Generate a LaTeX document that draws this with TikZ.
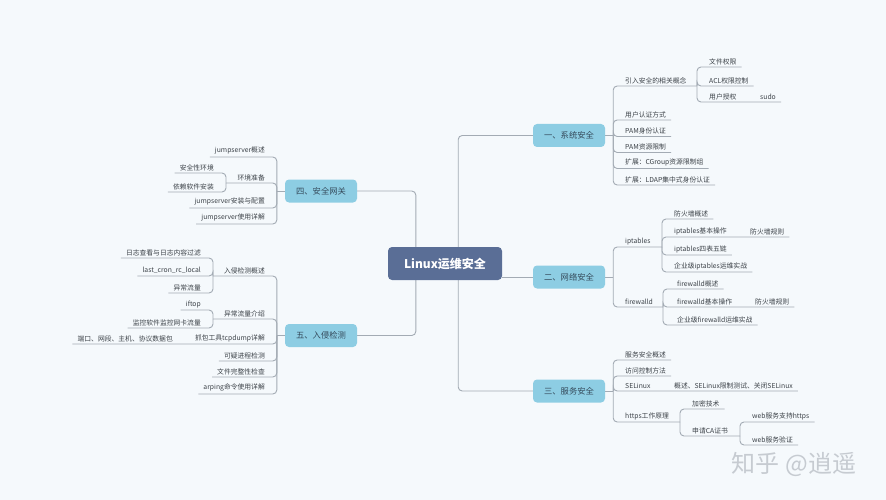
\documentclass[tikz,border=0pt]{standalone}
\usepackage{fontspec}
\setmainfont{Noto Sans CJK SC}
\usetikzlibrary{backgrounds,calc}
\definecolor{bgc}{HTML}{F5F9FC}
\definecolor{linec}{HTML}{A3ABB4}
\definecolor{txtc}{HTML}{3C4248}
\definecolor{brc}{HTML}{8DCDE3}
\definecolor{brtxt}{HTML}{34495A}
\definecolor{rootc}{HTML}{5A6E96}
\definecolor{wmc}{HTML}{C6CBD1}
\begin{document}
\begin{tikzpicture}[x=1pt,y=-1pt,
 ln/.style={draw=linec,line width=0.9pt,rounded corners=4pt},
 rt/.style={anchor=south west,inner xsep=0pt,inner ysep=2.2pt,text=txtc,font=\fontsize{6.8}{8}\selectfont},
 lt/.style={rt,anchor=south east},
 brn/.style={fill=brc,rounded corners=4pt,minimum width=72pt,minimum height=23pt,inner sep=0pt,text=brtxt,font=\fontsize{8.3}{10}\selectfont},
 rootn/.style={fill=rootc,rounded corners=4pt,minimum width=114pt,minimum height=33pt,inner sep=0pt,text=white,font=\fontsize{12}{14}\selectfont\bfseries}]
\useasboundingbox (0,0) rectangle (886,500);

\node[rootn] (root) at (445,263.5) {Linux运维安全};
\node[brn] (n1) at (569,135.5) {一、系统安全};
\node[brn] (n2) at (569,277) {二、网络安全};
\node[brn] (n3) at (569,391) {三、服务安全};
\node[brn] (n4) at (321,191) {四、安全网关};
\node[brn] (n5) at (321,335.5) {五、入侵检测};

% branch 1
\node[rt] (a1) at (625,86) {引入安全的相关概念};
\node[rt] (a11) at (709,67) {文件权限};
\node[rt] (a12) at (709,86) {ACL权限控制};
\node[rt] (a13) at (709,102) {用户授权};
\node[rt] (a131) at (760,102) {sudo};
\node[rt] (a2) at (625,120) {用户认证方式};
\node[rt] (a3) at (625,136.5) {PAM身份认证};
\node[rt] (a4) at (625,152.5) {PAM资源限制};
\node[rt] (a5) at (625,168.5) {扩展：CGroup资源限制组};
\node[rt] (a6) at (625,185) {扩展：LDAP集中式身份认证};

% branch 2
\node[rt] (b1) at (625,247) {iptables};
\node[rt] (b11) at (674,219) {防火墙概述};
\node[rt] (b12) at (674,237) {iptables基本操作};
\node[rt] (b121) at (750,237) {防火墙规则};
\node[rt] (b13) at (674,255) {iptables四表五链};
\node[rt] (b14) at (674,272) {企业级iptables运维实战};
\node[rt] (b2) at (625,307) {firewalld};
\node[rt] (b21) at (677,289) {firewalld概述};
\node[rt] (b22) at (677,307) {firewalld基本操作};
\node[rt] (b221) at (755,307) {防火墙规则};
\node[rt] (b23) at (677,325) {企业级firewalld运维实战};

% branch 3
\node[rt] (c1) at (625,360) {服务安全概述};
\node[rt] (c2) at (625,376) {访问控制方法};
\node[rt] (c3) at (625,391) {SELinux};
\node[rt] (c31) at (674,391) {概述、SELinux限制测试、关闭SELinux};
\node[rt] (c4) at (625,422) {https工作原理};
\node[rt] (c41) at (692,409) {加密技术};
\node[rt] (c42) at (692,436) {申请CA证书};
\node[rt] (c421) at (752,422) {web服务支持https};
\node[rt] (c422) at (752,445) {web服务验证};

% branch 4
\node[lt] (d1) at (265,157) {jumpserver概述};
\node[lt] (d2) at (265,183) {环境准备};
\node[lt] (d21) at (214,173) {安全性环境};
\node[lt] (d22) at (214,192) {依赖软件安装};
\node[lt] (d3) at (265,208) {jumpserver安装与配置};
\node[lt] (d4) at (265,224) {jumpserver使用详解};

% branch 5
\node[lt] (e1) at (265,276) {入侵检测概述};
\node[lt] (e11) at (201,258) {日志查看与日志内容过滤};
\node[lt] (e12) at (201,276) {last\_cron\_rc\_local};
\node[lt] (e13) at (201,293) {异常流量};
\node[lt] (e2) at (265,319) {异常流量介绍};
\node[lt] (e21) at (201,310) {iftop};
\node[lt] (e22) at (201,328) {监控软件监控网卡流量};
\node[lt] (e3) at (265,344) {抓包工具tcpdump详解};
\node[lt] (e31) at (173,344) {端口、网段、主机、协议数据包};
\node[lt] (e4) at (265,361) {可疑进程检测};
\node[lt] (e5) at (265,377) {文件完整性检查};
\node[lt] (e6) at (265,394) {arping命令使用详解};

\node[text=wmc,font=\fontsize{24}{26}\selectfont] (wm) at (794,464) {知乎 @逍遥};

% junctions
\coordinate (k1) at ([xshift=8pt]n1.east);
\coordinate (k1a) at (697,86);
\coordinate (k2) at ([xshift=8pt]n2.east);
\coordinate (k2a) at (662,247);
\coordinate (k2b) at (663,307);
\coordinate (k3) at ([xshift=8pt]n3.east);
\coordinate (k3a) at (680,422);
\coordinate (k3b) at (740,436);
\coordinate (k4) at ([xshift=-8pt]n4.west);
\coordinate (k4a) at (226,183);
\coordinate (k5) at ([xshift=-8pt]n5.west);
\coordinate (k5a) at (213,276);
\coordinate (k5b) at (213,319);

\begin{scope}[on background layer]
\fill[bgc] (0,0) rectangle (886,500);
\draw[ln] (n1.west) -| ([xshift=-44pt]root.east) |- (n3.west);
\draw[ln] (root.east |- n2.west) -- (n2.west);
\draw[ln] (n4.east) -| ([xshift=28pt]root.west) |- (n5.east);
% 1
\draw[ln] (n1.east) -- (k1);
\draw[ln] (k1) |- (k1a);
\draw[ln] (k1a) |- ([xshift=5pt]a11.south east);
\draw[ln] (k1a) |- ([xshift=5pt]a12.south east);
\draw[ln] (k1a) |- ([xshift=5pt]a131.south east);
\draw[ln] (k1) |- ([xshift=5pt]a2.south east);
\draw[ln] (k1) |- ([xshift=5pt]a3.south east);
\draw[ln] (k1) |- ([xshift=5pt]a4.south east);
\draw[ln] (k1) |- ([xshift=5pt]a5.south east);
\draw[ln] (k1) |- ([xshift=5pt]a6.south east);
% 2
\draw[ln] (n2.east) -- (k2);
\draw[ln] (k2) |- (k2a);
\draw[ln] (k2a) |- ([xshift=5pt]b11.south east);
\draw[ln] (k2a) |- ([xshift=5pt]b121.south east);
\draw[ln] (k2a) |- ([xshift=5pt]b13.south east);
\draw[ln] (k2a) |- ([xshift=5pt]b14.south east);
\draw[ln] (k2) |- (k2b);
\draw[ln] (k2b) |- ([xshift=5pt]b21.south east);
\draw[ln] (k2b) |- ([xshift=5pt]b221.south east);
\draw[ln] (k2b) |- ([xshift=5pt]b23.south east);
% 3
\draw[ln] (n3.east) -- (k3);
\draw[ln] (k3) |- ([xshift=5pt]c1.south east);
\draw[ln] (k3) |- ([xshift=5pt]c2.south east);
\draw[ln] (k3) |- ([xshift=5pt]c31.south east);
\draw[ln] (k3) |- (k3a);
\draw[ln] (k3a) |- ([xshift=5pt]c41.south east);
\draw[ln] (k3a) |- (k3b);
\draw[ln] (k3b) |- ([xshift=5pt]c421.south east);
\draw[ln] (k3b) |- ([xshift=5pt]c422.south east);
% 4
\draw[ln] (n4.west) -- (k4);
\draw[ln] (k4) |- ([xshift=-5pt]d1.south west);
\draw[ln] (k4) |- (k4a);
\draw[ln] (k4a) |- ([xshift=-5pt]d21.south west);
\draw[ln] (k4a) |- ([xshift=-5pt]d22.south west);
\draw[ln] (k4) |- ([xshift=-5pt]d3.south west);
\draw[ln] (k4) |- ([xshift=-5pt]d4.south west);
% 5
\draw[ln] (n5.west) -- (k5);
\draw[ln] (k5) |- (k5a);
\draw[ln] (k5a) |- ([xshift=-5pt]e11.south west);
\draw[ln] (k5a) |- ([xshift=-5pt]e12.south west);
\draw[ln] (k5a) |- ([xshift=-5pt]e13.south west);
\draw[ln] (k5) |- (k5b);
\draw[ln] (k5b) |- ([xshift=-5pt]e21.south west);
\draw[ln] (k5b) |- ([xshift=-5pt]e22.south west);
\draw[ln] (k5) |- ([xshift=-5pt]e31.south west);
\draw[ln] (k5) |- ([xshift=-5pt]e4.south west);
\draw[ln] (k5) |- ([xshift=-5pt]e5.south west);
\draw[ln] (k5) |- ([xshift=-5pt]e6.south west);
\end{scope}
\end{tikzpicture}
\end{document}
